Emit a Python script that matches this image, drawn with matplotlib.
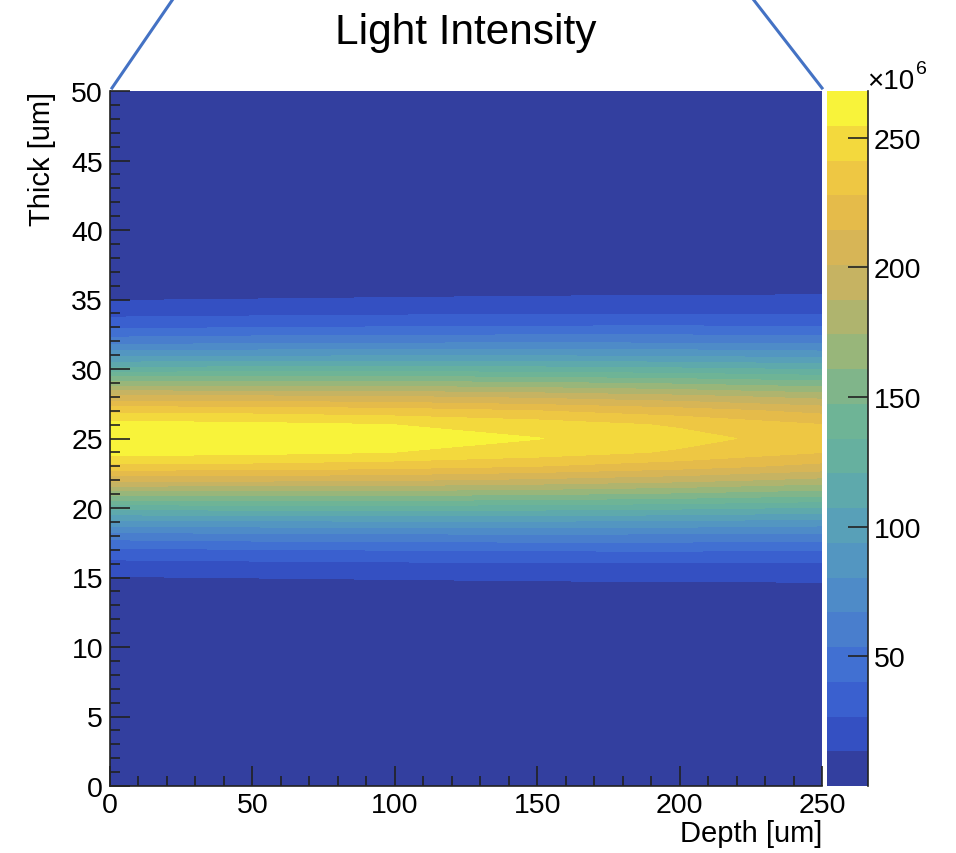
import numpy as np
import matplotlib.pyplot as plt
from matplotlib.colors import ListedColormap, BoundaryNorm
from matplotlib.lines import Line2D

plt.rcParams['font.family'] = ['Liberation Sans', 'DejaVu Sans']

# depth columns [um] and distance from the beam centre at 25 um
depth = [0, 50, 100, 150, 200, 250]
centre = 25
offset = [0, 1, 2, 3, 4, 5, 6, 7, 8, 9, 10, 11, 12, 15, 25]

# intensity [x1e6] at each offset, one list per depth column
i_d0 = [267, 260, 237, 204, 165, 125, 89, 60, 38, 22.7, 12.7, 6.7, 3.4, 0.5, 0.1]
i_d50 = [266, 258, 236, 203.5, 165, 126, 91, 62, 39.6, 23.9, 13.6, 7.3, 3.8, 0.6, 0.1]
i_d100 = [262, 254.5, 233, 201.7, 164.6, 126.6, 92, 63.1, 40.8, 24.9, 14.3, 7.8, 4.2, 0.7, 0.1]
i_d150 = [255, 248, 227.7, 197.6, 162.1, 125.6, 92, 63.6, 41.6, 25.7, 15.0, 8.3, 4.5, 0.8, 0.1]
i_d200 = [246, 239.3, 220.2, 191.7, 157.9, 123, 90.8, 63.3, 41.8, 26.1, 15.4, 8.6, 4.7, 0.9, 0.1]
i_d250 = [234, 228, 210, 183, 152, 119, 88, 62, 41, 26, 15.7, 8.9, 4.8, 0.9, 0.1]

cbar_ticks = [50, 100, 150, 200, 250]
zmax = 268
nlev = 20

# kBird-like palette as it shows in the picture, bottom -> top
colors = ['#333f9f', '#3450c2', '#3a60cf', '#4170d2', '#497ecd', '#4e8bc8',
          '#5396c1', '#58a0b8', '#5ea9ac', '#66b09f', '#6eb496', '#80b58a',
          '#98b67a', '#afb46e', '#c6b362', '#d7b556', '#e5bb4a', '#eec743',
          '#f3d93d', '#f8f33a']

# mirror the half profiles around the centre
cols = np.array([i_d0, i_d50, i_d100, i_d150, i_d200, i_d250]).T
off = np.array(offset)
thick = np.concatenate([centre - off[::-1], centre + off[1:]])
Z = np.vstack([cols[::-1], cols[1:]])

levels = np.linspace(0, zmax, nlev + 1)
cmap = ListedColormap(colors)
norm = BoundaryNorm(levels, cmap.N)

fig = plt.figure(figsize=(9.56, 8.54), dpi=100)
ax = fig.add_axes([110/956, 67/854, 712/956, 695/854])
cax = fig.add_axes([827/956, 67/854, 41/956, 695/854])

cf = ax.contourf(depth, thick, Z, levels=levels, cmap=cmap, norm=norm)
ax.set_xlim(0, 250)
ax.set_ylim(0, 50)

ax.set_xticks(np.arange(0, 251, 50))
ax.set_xticks(np.arange(0, 251, 10), minor=True)
ax.set_yticks(np.arange(0, 51, 5))
ax.set_yticks(np.arange(0, 51, 1), minor=True)
ax.tick_params(which='both', direction='in', top=False, right=False, labelsize=20.5, color='#222222')
ax.tick_params(which='major', length=14.4, width=1.2)
ax.tick_params(which='minor', length=7.2, width=1.2)
ax.tick_params(axis='y', pad=5)
ax.tick_params(axis='x', pad=4)
for s in ['top', 'right']:
    ax.spines[s].set_visible(False)
for s in ['left', 'bottom']:
    ax.spines[s].set_linewidth(1.2)
    ax.spines[s].set_color('#222222')

ax.set_xlabel('Depth [um]', fontsize=21, loc='right')
ax.xaxis.set_label_coords(1.0, -0.048)
ax.set_ylabel('Thick [um]', fontsize=21, loc='top')
ax.yaxis.set_label_coords(-0.076, 1.0)

cb = fig.colorbar(cf, cax=cax)
cb.outline.set_visible(False)
cb.set_ticks(cbar_ticks)
cax.tick_params(direction='in', length=14.4, width=1.2, labelsize=20.5, pad=4, color='#222222')
cax.minorticks_off()
cax.plot([1, 1], [0, 1], transform=cax.transAxes, color='#222222', lw=1.2, clip_on=False)
fig.text(867/956, 1 - 89/854, '×10', fontsize=20, ha='left', va='baseline')
fig.text(916/956, 1 - 74/854, '6', fontsize=14, ha='left', va='baseline')

fig.text(466/956, 1 - 44/854, 'Light Intensity', fontsize=30.5, ha='center', va='baseline')

# callout lines from the slide
blue = '#4472c4'
fig.add_artist(Line2D([112/956, 173/956], [1 - 89/854, 1.0], color=blue, lw=2.2))
fig.add_artist(Line2D([753/956, 822/956], [1.0, 1 - 89/854], color=blue, lw=2.2))

fig.savefig('out.png', dpi=100)
